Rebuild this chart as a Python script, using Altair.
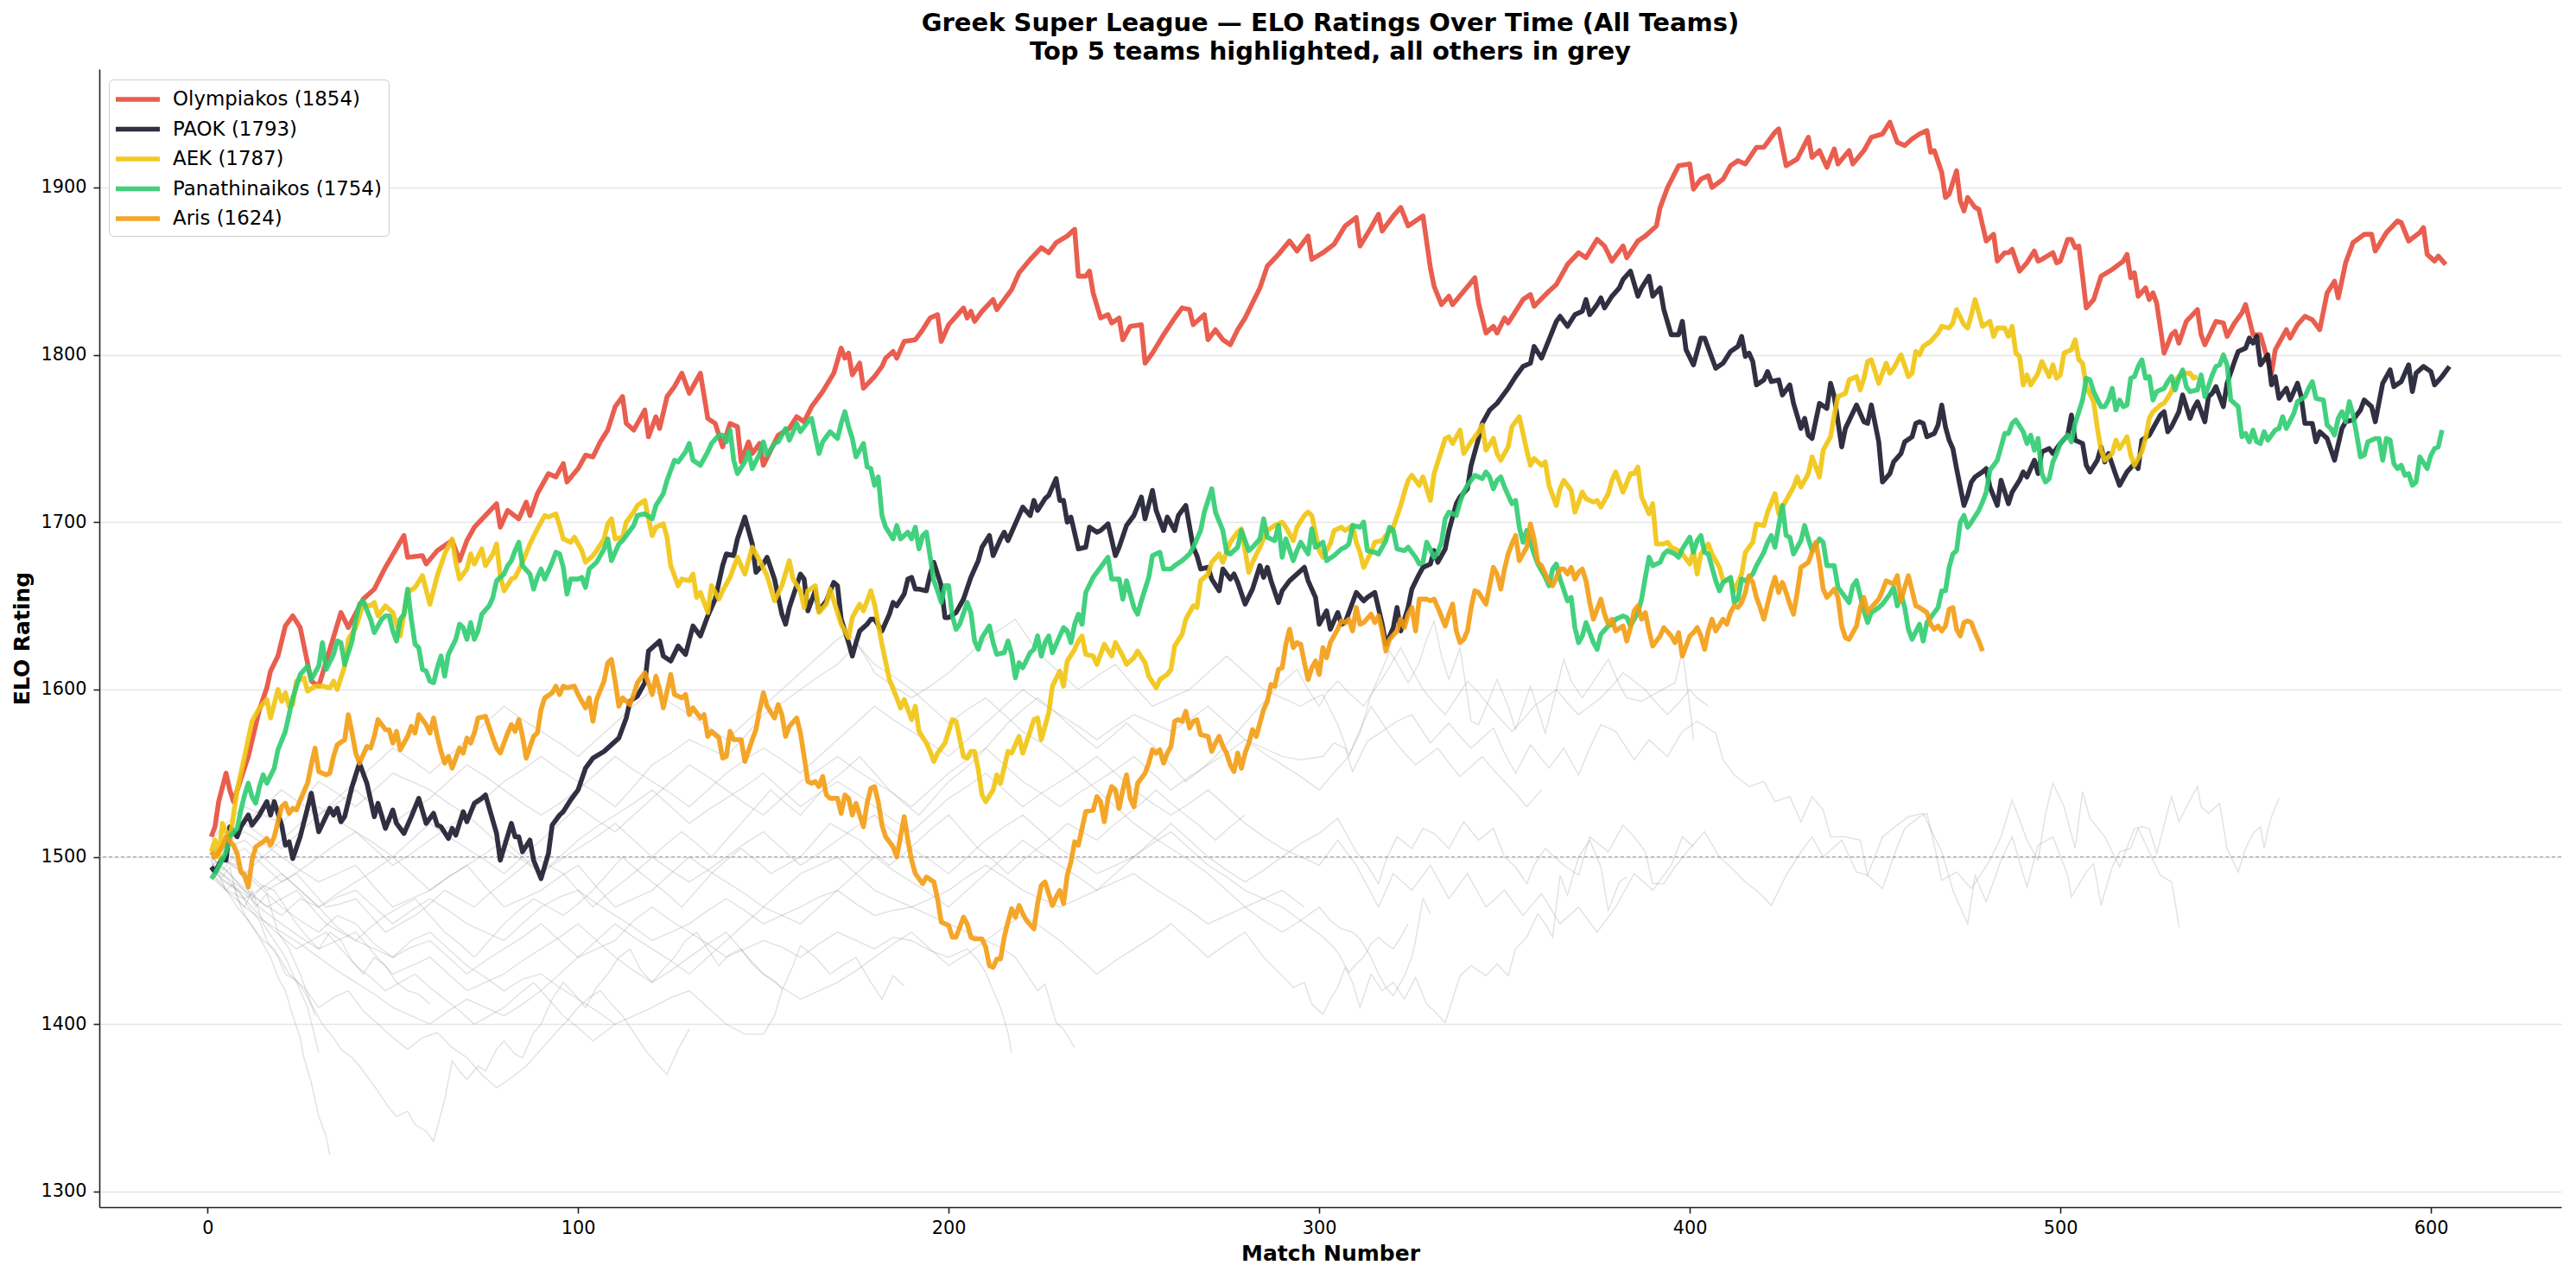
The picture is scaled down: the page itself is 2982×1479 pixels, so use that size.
import altair as alt
import pandas as pd

alt.data_transformers.disable_max_rows()

TITLE_1 = "Greek Super League \u2014 ELO Ratings Over Time (All Teams)"
TITLE_2 = "Top 5 teams highlighted, all others in grey"
TEAMS = ["Olympiakos (1854)", "PAOK (1793)", "AEK (1787)", "Panathinaikos (1754)", "Aris (1624)"]
COLORS = ["#e74c3c", "#1a1a2e", "#f1c40f", "#2ecc71", "#f39c12"]
X_TICKS = [0, 100, 200, 300, 400, 500, 600]
Y_TICKS = [1300, 1400, 1500, 1600, 1700, 1800, 1900]

OLY = [(1,1512),(2,1518),(3,1533),(5,1550),(6,1540),(7,1533),(11,1560),(14,1588),(16,1601),(17,1611),(19,1620),(21,1638),(23,1644),(25,1637),(28,1605),(30,1602),(36,1646),(38,1637),(42,1654),(45,1660),(48,1673),(53,1692),(54,1679),(58,1680),(59,1675),(62,1683),(66,1689),(68,1677),(70,1689),(72,1697),(75,1704),(78,1711),(79,1697),(81,1707),(84,1702),(86,1712),(87,1704),(89,1717),(92,1729),(94,1727),(96,1735),(97,1724),(100,1732),(102,1740),(104,1739),(106,1748),(108,1755),(110,1769),(112,1775),(113,1759),(115,1755),(118,1767),(119,1751),(121,1763),(122,1756),(124,1775),(126,1781),(128,1789),(130,1777),(133,1789),(135,1762),(137,1759),(139,1745),(141,1759),(143,1757),(144,1736),(146,1748),(147,1741),(149,1747),(150,1734),(154,1752),(157,1756),(159,1763),(161,1760),(163,1769),(166,1778),(169,1789),(171,1804),(172,1798),(173,1801),(174,1788),(176,1795),(177,1780),(180,1787),(182,1793),(183,1798),(185,1802),(186,1798),(188,1808),(191,1809),(193,1815),(195,1822),(197,1824),(198,1808),(200,1818),(202,1823),(204,1828),(205,1822),(206,1826),(207,1820),(209,1826),(212,1833),(213,1827),(215,1833),(217,1839),(219,1849),(222,1857),(225,1864),(227,1861),(229,1867),(232,1871),(234,1875),(235,1847),(237,1847),(238,1850),(239,1837),(241,1822),(243,1824),(244,1819),(246,1822),(247,1809),(249,1817),(252,1818),(253,1795),(255,1801),(258,1812),(261,1822),(263,1828),(265,1827),(266,1818),(269,1824),(270,1809),(272,1815),(274,1809),(276,1806),(278,1815),(280,1822),(282,1831),(284,1840),(286,1853),(289,1860),(292,1868),(294,1862),(297,1871),(298,1857),(301,1861),(304,1866),(307,1877),(310,1882),(311,1865),(314,1876),(316,1884),(317,1874),(320,1883),(322,1888),(324,1877),(328,1883),(330,1852),(331,1841),(333,1830),(335,1835),(336,1830),(339,1838),(342,1846),(343,1831),(345,1813),(347,1817),(348,1813),(350,1822),(351,1819),(355,1833),(357,1836),(358,1829),(362,1838),(364,1842),(367,1854),(370,1861),(372,1858),(375,1869),(377,1865),(379,1856),(382,1865),(383,1858),(386,1868),(388,1871),(391,1877),(392,1888),(394,1900),(397,1913),(400,1914),(401,1899),(403,1905),(405,1907),(406,1900),(409,1905),(411,1913),(413,1916),(415,1914),(418,1924),(420,1924),(423,1933),(424,1935),(426,1913),(429,1917),(432,1930),(433,1918),(435,1922),(437,1912),(439,1923),(440,1914),(443,1922),(444,1914),(447,1922),(449,1930),(452,1932),(454,1939),(456,1927),(458,1925),(460,1929),(462,1932),(464,1934),(465,1921),(466,1922),(468,1909),(469,1894),(470,1896),(472,1910),(473,1892),(474,1886),(475,1894),(477,1888),(478,1887),(480,1868),(482,1872),(483,1856),(485,1861),(486,1861),(487,1863),(489,1850),(491,1855),(493,1862),(494,1856),(495,1857),(498,1861),(499,1855),(500,1856),(502,1869),(503,1869),(504,1864),(505,1865),(506,1847),(507,1828),(509,1833),(511,1847),(514,1851),(517,1856),(518,1860),(519,1846),(520,1849),(521,1835),(523,1840),(524,1833),(525,1837),(526,1831),(528,1801),(530,1812),(531,1814),(532,1807),(534,1820),(537,1827),(538,1812),(539,1806),(542,1820),(544,1819),(545,1811),(547,1819),(549,1825),(550,1830),(552,1812),(554,1812),(557,1789),(558,1803),(561,1815),(562,1810),(564,1818),(566,1823),(568,1821),(570,1815),(572,1837),(574,1844),(575,1834),(577,1855),(579,1867),(582,1872),(584,1872),(585,1862),(588,1873),(591,1880),(592,1879),(594,1868),(597,1873),(598,1876),(599,1860),(601,1856),(602,1859),(604,1854)]

PAOK = [(1,1494),(2,1491),(4,1499),(5,1498),(6,1518),(8,1512),(9,1518),(11,1525),(12,1519),(14,1525),(16,1533),(17,1525),(18,1533),(20,1519),(21,1507),(22,1509),(23,1499),(25,1512),(28,1538),(30,1515),(33,1529),(34,1525),(35,1529),(36,1521),(37,1524),(39,1542),(41,1556),(43,1544),(45,1524),(46,1532),(48,1517),(50,1528),(51,1520),(53,1514),(55,1524),(57,1535),(59,1520),(61,1526),(62,1519),(63,1518),(65,1511),(66,1517),(67,1513),(69,1527),(70,1521),(72,1532),(74,1535),(75,1537),(78,1514),(79,1498),(82,1520),(83,1512),(84,1512),(85,1503),(87,1510),(88,1498),(90,1487),(92,1502),(93,1519),(95,1525),(96,1527),(98,1534),(100,1540),(102,1553),(104,1559),(107,1563),(109,1567),(111,1571),(113,1583),(114,1593),(116,1596),(118,1604),(119,1623),(122,1629),(123,1620),(125,1617),(127,1626),(129,1621),(131,1638),(133,1632),(135,1644),(137,1654),(139,1674),(140,1681),(142,1680),(143,1690),(145,1703),(147,1687),(148,1670),(150,1675),(151,1679),(153,1666),(155,1645),(156,1639),(157,1649),(160,1669),(161,1666),(162,1647),(164,1659),(165,1647),(167,1653),(169,1664),(170,1662),(171,1642),(173,1628),(174,1620),(175,1628),(176,1635),(178,1639),(179,1642),(180,1642),(182,1635),(184,1645),(185,1652),(186,1650),(188,1657),(189,1666),(190,1667),(191,1660),(192,1660),(194,1659),(195,1669),(196,1676),(198,1662),(199,1643),(200,1643),(202,1646),(204,1654),(206,1667),(208,1677),(209,1685),(211,1692),(212,1680),(214,1690),(215,1694),(216,1689),(218,1699),(220,1709),(222,1704),(223,1713),(224,1707),(226,1714),(227,1716),(229,1726),(230,1713),(231,1713),(232,1700),(233,1703),(235,1684),(237,1685),(238,1697),(240,1694),(241,1695),(243,1699),(245,1680),(246,1685),(248,1698),(250,1704),(252,1715),(253,1702),(255,1719),(256,1707),(258,1695),(259,1703),(261,1695),(262,1704),(264,1710),(266,1685),(267,1680),(268,1672),(270,1673),(271,1666),(273,1659),(274,1672),(276,1666),(277,1669),(278,1664),(280,1651),(282,1660),(284,1674),(285,1667),(286,1673),(287,1665),(289,1652),(290,1659),(292,1665),(294,1669),(296,1673),(297,1665),(299,1655),(300,1639),(302,1647),(303,1636),(305,1646),(306,1639),(307,1640),(310,1658),(312,1653),(313,1655),(315,1658),(317,1639),(318,1627),(320,1637),(321,1649),(322,1635),(324,1649),(325,1660),(327,1669),(328,1673),(330,1675),(331,1683),(332,1676),(334,1684),(335,1695),(337,1711),(338,1715),(340,1720),(341,1734),(343,1750),(344,1759),(346,1767),(348,1771),(350,1777),(351,1780),(353,1787),(355,1793),(357,1795),(358,1805),(360,1798),(362,1809),(364,1820),(365,1823),(367,1817),(369,1824),(371,1826),(372,1833),(373,1824),(375,1830),(376,1834),(377,1828),(379,1835),(381,1840),(382,1845),(384,1850),(386,1835),(387,1840),(389,1847),(390,1835),(392,1840),(393,1827),(395,1812),(397,1812),(398,1820),(399,1803),(401,1794),(403,1810),(404,1810),(405,1804),(407,1792),(409,1795),(411,1802),(413,1805),(414,1811),(415,1799),(416,1801),(417,1796),(418,1782),(420,1785),(421,1790),(422,1784),(424,1785),(425,1776),(427,1782),(428,1771),(430,1756),(431,1762),(432,1752),(433,1750),(435,1771),(437,1768),(438,1783),(439,1775),(441,1745),(442,1756),(445,1770),(447,1760),(448,1759),(449,1770),(451,1748),(452,1724),(454,1729),(455,1736),(457,1741),(458,1748),(460,1751),(461,1759),(462,1760),(463,1759),(464,1751),(466,1753),(467,1758),(468,1770),(469,1757),(470,1749),(471,1744),(472,1732),(474,1710),(475,1716),(476,1724),(477,1727),(479,1730),(480,1732),(481,1721),(483,1710),(484,1725),(486,1711),(487,1718),(489,1725),(490,1730),(491,1727),(493,1737),(494,1729),(495,1742),(497,1744),(498,1741),(500,1747),(502,1752),(503,1764),(504,1749),(506,1747),(507,1734),(508,1730),(510,1737),(511,1745),(512,1736),(513,1741),(515,1728),(516,1722),(518,1730),(520,1735),(521,1732),(522,1749),(524,1752),(525,1756),(527,1764),(528,1766),(529,1754),(530,1757),(532,1766),(533,1776),(535,1762),(536,1768),(537,1772),(539,1760),(540,1775),(541,1777),(542,1781),(544,1769),(545,1783),(547,1796),(548,1802),(550,1804),(551,1810),(552,1807),(553,1811),(554,1794),(556,1800),(557,1782),(558,1787),(559,1774),(561,1780),(562,1773),(564,1783),(565,1775),(566,1759),(568,1759),(569,1748),(570,1754),(572,1750),(574,1737),(576,1756),(577,1760),(579,1761),(581,1767),(582,1773),(584,1769),(585,1760),(587,1783),(588,1787),(589,1791),(590,1781),(592,1784),(594,1794),(595,1778),(596,1789),(598,1793),(600,1790),(601,1782),(603,1787),(605,1793)]

AEK = [(1,1503),(2,1510),(3,1500),(4,1520),(6,1510),(8,1540),(10,1560),(12,1581),(14,1589),(16,1594),(17,1583),(19,1600),(20,1593),(21,1598),(22,1590),(23,1591),(24,1605),(26,1607),(27,1599),(29,1602),(31,1602),(33,1601),(34,1605),(35,1600),(37,1614),(38,1630),(40,1637),(42,1651),(44,1650),(45,1652),(46,1644),(48,1650),(50,1646),(52,1632),(54,1658),(56,1661),(58,1668),(60,1651),(62,1668),(64,1681),(66,1690),(67,1676),(68,1666),(70,1672),(71,1681),(72,1675),(74,1684),(75,1674),(77,1681),(78,1687),(79,1668),(80,1659),(82,1666),(83,1667),(85,1676),(87,1687),(89,1696),(91,1704),(92,1703),(94,1705),(95,1698),(96,1690),(98,1688),(99,1691),(101,1683),(102,1676),(104,1680),(105,1683),(107,1690),(108,1699),(109,1702),(110,1690),(112,1691),(113,1700),(115,1706),(116,1710),(118,1713),(119,1702),(120,1692),(121,1697),(123,1699),(124,1691),(125,1674),(127,1662),(128,1666),(130,1665),(131,1669),(132,1655),(133,1658),(135,1646),(136,1662),(138,1654),(139,1659),(141,1667),(143,1679),(145,1669),(147,1685),(149,1677),(151,1668),(153,1653),(155,1662),(157,1677),(158,1666),(160,1659),(161,1649),(162,1659),(164,1662),(165,1646),(167,1651),(168,1660),(170,1646),(171,1639),(173,1631),(174,1643),(176,1651),(177,1647),(179,1659),(180,1651),(182,1627),(184,1606),(186,1595),(187,1589),(188,1594),(190,1582),(191,1590),(192,1575),(194,1568),(195,1563),(196,1557),(197,1562),(199,1568),(201,1582),(202,1581),(204,1560),(205,1559),(206,1563),(207,1563),(208,1552),(209,1537),(210,1533),(212,1540),(213,1549),(214,1544),(216,1563),(217,1562),(219,1572),(220,1562),(222,1575),(223,1582),(224,1583),(225,1570),(227,1586),(228,1602),(230,1611),(231,1602),(232,1617),(234,1624),(235,1629),(236,1632),(237,1621),(239,1620),(240,1615),(242,1627),(244,1620),(245,1628),(247,1620),(248,1615),(250,1619),(251,1623),(253,1616),(254,1608),(256,1601),(257,1606),(259,1609),(260,1612),(261,1626),(263,1633),(264,1642),(266,1650),(267,1649),(268,1665),(270,1669),(271,1676),(273,1681),(274,1676),(276,1688),(278,1694),(279,1696),(281,1670),(282,1676),(284,1685),(286,1695),(288,1698),(290,1700),(291,1697),(293,1689),(294,1697),(296,1704),(297,1706),(298,1704),(300,1683),(301,1679),(303,1687),(304,1695),(306,1697),(307,1695),(309,1698),(310,1688),(311,1682),(312,1673),(314,1682),(315,1688),(317,1689),(318,1692),(320,1697),(322,1710),(323,1718),(324,1725),(325,1728),(327,1722),(328,1727),(330,1713),(331,1729),(332,1736),(334,1750),(335,1751),(336,1747),(338,1755),(339,1741),(341,1748),(343,1754),(344,1758),(345,1743),(347,1750),(348,1741),(349,1737),(351,1745),(352,1757),(354,1763),(356,1743),(357,1734),(358,1738),(360,1734),(361,1736),(362,1722),(364,1710),(365,1720),(366,1725),(368,1719),(369,1706),(371,1718),(372,1714),(374,1712),(375,1713),(376,1709),(378,1717),(379,1725),(380,1730),(382,1718),(384,1729),(385,1729),(386,1733),(387,1715),(389,1705),(390,1711),(391,1687),(393,1687),(394,1688),(395,1685),(397,1683),(398,1681),(400,1675),(401,1683),(402,1669),(403,1681),(405,1687),(406,1681),(408,1673),(409,1665),(411,1666),(412,1659),(414,1669),(415,1682),(417,1688),(418,1699),(420,1698),(421,1706),(423,1717),(424,1705),(426,1713),(428,1721),(429,1727),(430,1721),(432,1729),(433,1739),(435,1727),(436,1743),(438,1751),(439,1764),(440,1775),(442,1777),(443,1785),(445,1787),(446,1779),(447,1786),(448,1796),(449,1797),(451,1783),(453,1795),(454,1789),(455,1792),(457,1800),(459,1787),(460,1789),(461,1802),(462,1800),(463,1805),(465,1808),(467,1813),(468,1817),(470,1816),(471,1819),(472,1827),(474,1818),(475,1816),(476,1824),(477,1833),(479,1817),(481,1820),(482,1811),(483,1816),(485,1816),(486,1811),(487,1817),(488,1801),(489,1799),(490,1782),(491,1788),(492,1782),(494,1789),(495,1796),(497,1787),(498,1794),(499,1786),(500,1788),(501,1801),(503,1803),(504,1809),(505,1797),(506,1795),(507,1781),(509,1772),(510,1756),(511,1743),(512,1737),(514,1741),(515,1749),(516,1744),(518,1751),(519,1740),(520,1734),(522,1742),(523,1750),(524,1762),(525,1766),(527,1770),(528,1771),(530,1778),(531,1785),(533,1789),(535,1789),(536,1786),(537,1787)]

PAO = [(1,1487),(2,1490),(3,1494),(5,1503),(6,1512),(8,1517),(9,1528),(10,1537),(11,1544),(12,1536),(13,1532),(14,1542),(15,1549),(16,1544),(18,1553),(19,1564),(21,1575),(23,1595),(25,1609),(27,1614),(28,1606),(30,1614),(31,1628),(32,1612),(34,1621),(35,1629),(36,1628),(37,1615),(39,1629),(40,1642),(41,1651),(42,1653),(44,1642),(45,1634),(47,1642),(48,1644),(49,1644),(50,1635),(51,1629),(52,1642),(53,1645),(54,1660),(55,1642),(56,1627),(57,1625),(58,1612),(59,1611),(60,1605),(61,1604),(62,1613),(63,1620),(64,1608),(65,1621),(67,1630),(68,1639),(69,1637),(70,1630),(71,1640),(72,1630),(73,1635),(74,1645),(76,1650),(77,1655),(78,1665),(80,1669),(81,1674),(82,1677),(83,1683),(84,1688),(85,1674),(87,1669),(88,1660),(89,1667),(90,1672),(91,1666),(93,1676),(94,1682),(95,1681),(96,1673),(97,1657),(98,1666),(100,1666),(101,1667),(102,1661),(103,1672),(105,1676),(106,1680),(107,1684),(108,1690),(109,1677),(111,1687),(112,1689),(113,1692),(115,1698),(116,1704),(118,1705),(120,1702),(121,1710),(123,1717),(124,1725),(126,1737),(127,1736),(129,1742),(130,1747),(131,1737),(133,1734),(135,1742),(136,1747),(138,1752),(139,1752),(140,1748),(141,1755),(142,1737),(143,1729),(145,1736),(146,1742),(147,1732),(149,1741),(150,1748),(151,1740),(153,1747),(154,1748),(156,1756),(157,1749),(159,1759),(160,1754),(162,1760),(163,1762),(165,1741),(166,1748),(167,1751),(168,1754),(170,1750),(171,1759),(172,1766),(173,1757),(174,1750),(175,1739),(177,1747),(178,1733),(179,1732),(180,1722),(181,1727),(182,1704),(183,1697),(185,1690),(186,1698),(187,1690),(189,1694),(190,1690),(191,1697),(192,1684),(193,1692),(194,1694),(196,1665),(197,1659),(198,1652),(199,1662),(200,1662),(201,1644),(202,1636),(203,1639),(205,1652),(206,1646),(207,1629),(208,1624),(209,1631),(211,1638),(212,1628),(213,1621),(215,1622),(216,1629),(217,1621),(218,1607),(219,1616),(220,1613),(222,1622),(223,1624),(224,1632),(225,1620),(226,1628),(227,1632),(228,1622),(230,1632),(231,1637),(232,1635),(233,1628),(234,1639),(235,1645),(236,1639),(237,1658),(239,1667),(241,1673),(242,1676),(243,1679),(244,1666),(246,1666),(247,1654),(248,1665),(250,1649),(251,1645),(252,1653),(254,1667),(255,1680),(257,1682),(258,1672),(260,1672),(261,1674),(263,1677),(265,1681),(266,1685),(268,1695),(269,1706),(271,1720),(272,1706),(274,1695),(275,1682),(276,1681),(278,1685),(279,1695),(281,1683),(282,1685),(284,1690),(285,1702),(286,1691),(288,1689),(289,1698),(290,1679),(291,1690),(293,1677),(294,1683),(295,1688),(297,1681),(298,1696),(299,1685),(301,1688),(302,1677),(304,1680),(306,1684),(307,1685),(308,1687),(309,1698),(311,1697),(312,1700),(313,1683),(315,1682),(316,1681),(318,1689),(319,1697),(320,1695),(321,1684),(323,1683),(324,1685),(326,1679),(327,1675),(328,1676),(329,1688),(331,1679),(332,1682),(333,1688),(334,1702),(335,1706),(337,1704),(338,1712),(339,1718),(340,1722),(342,1728),(344,1726),(345,1730),(346,1727),(347,1720),(348,1725),(349,1727),(350,1721),(352,1711),(353,1713),(354,1697),(355,1688),(356,1695),(358,1681),(359,1675),(361,1667),(362,1662),(363,1672),(364,1675),(365,1666),(367,1653),(368,1655),(369,1637),(370,1628),(371,1632),(372,1640),(374,1628),(375,1624),(376,1633),(378,1638),(379,1639),(380,1642),(382,1644),(383,1643),(384,1638),(386,1646),(387,1654),(388,1667),(389,1679),(390,1674),(392,1676),(393,1681),(394,1683),(396,1681),(397,1679),(398,1684),(400,1691),(401,1682),(402,1689),(403,1692),(404,1682),(405,1681),(407,1665),(408,1659),(409,1664),(411,1667),(412,1652),(413,1654),(414,1666),(415,1665),(417,1669),(418,1674),(420,1682),(421,1688),(422,1692),(423,1685),(424,1698),(425,1710),(426,1692),(427,1691),(428,1681),(430,1689),(431,1698),(432,1690),(433,1683),(435,1690),(436,1688),(437,1674),(439,1674),(440,1661),(441,1658),(443,1652),(444,1662),(445,1665),(447,1647),(448,1640),(449,1646),(451,1649),(452,1651),(454,1657),(455,1661),(456,1650),(457,1657),(458,1649),(459,1636),(460,1630),(462,1639),(463,1629),(464,1640),(466,1646),(467,1649),(468,1659),(469,1659),(470,1673),(471,1681),(472,1683),(473,1700),(474,1704),(475,1697),(476,1700),(478,1707),(479,1712),(480,1718),(481,1731),(483,1737),(484,1745),(485,1753),(486,1753),(487,1759),(488,1761),(490,1754),(491,1747),(492,1752),(493,1743),(494,1750),(495,1729),(496,1724),(497,1726),(498,1736),(499,1741),(500,1747),(502,1752),(503,1748),(504,1759),(506,1773),(507,1786),(508,1785),(509,1778),(511,1769),(512,1769),(513,1773),(514,1780),(515,1767),(516,1773),(517,1769),(518,1770),(519,1786),(520,1787),(521,1793),(522,1797),(523,1786),(524,1787),(525,1773),(526,1778),(528,1780),(529,1784),(530,1787),(531,1779),(532,1786),(533,1791),(534,1781),(535,1778),(537,1779),(538,1788),(539,1775),(541,1788),(542,1793),(543,1794),(544,1800),(545,1794),(546,1773),(547,1771),(548,1769),(549,1751),(550,1753),(551,1748),(552,1755),(553,1748),(554,1747),(555,1754),(556,1749),(558,1755),(559,1756),(560,1763),(561,1756),(563,1765),(564,1772),(566,1775),(567,1780),(568,1784),(569,1774),(571,1773),(572,1758),(573,1756),(574,1752),(575,1762),(576,1766),(577,1760),(578,1772),(579,1764),(580,1752),(581,1739),(582,1740),(583,1748),(585,1750),(586,1750),(587,1737),(588,1750),(589,1749),(590,1735),(591,1732),(592,1734),(593,1728),(594,1729),(595,1722),(596,1724),(597,1739),(599,1732),(600,1740),(601,1744),(602,1745),(603,1755)]

ARIS = [(1,1503),(2,1500),(4,1506),(5,1512),(7,1507),(8,1502),(9,1491),(10,1489),(11,1482),(12,1498),(13,1506),(15,1509),(16,1511),(17,1507),(18,1512),(19,1521),(20,1530),(21,1532),(22,1526),(23,1529),(24,1528),(25,1534),(27,1544),(28,1555),(29,1565),(30,1551),(32,1549),(33,1550),(34,1560),(35,1567),(37,1570),(38,1585),(39,1574),(40,1562),(41,1556),(43,1566),(44,1565),(45,1572),(46,1582),(48,1576),(49,1576),(50,1568),(51,1575),(52,1564),(54,1572),(55,1578),(56,1574),(57,1585),(59,1579),(60,1574),(61,1583),(62,1572),(63,1563),(64,1556),(65,1560),(66,1553),(68,1565),(69,1562),(70,1571),(71,1568),(72,1574),(73,1583),(75,1584),(77,1571),(78,1565),(79,1562),(81,1574),(82,1579),(83,1575),(84,1582),(85,1572),(86,1559),(88,1572),(89,1574),(90,1588),(91,1595),(93,1598),(94,1602),(95,1597),(96,1602),(97,1601),(99,1602),(100,1597),(102,1589),(103,1595),(104,1581),(105,1594),(107,1605),(108,1616),(109,1618),(110,1605),(111,1590),(112,1595),(114,1591),(115,1597),(116,1604),(118,1610),(119,1604),(120,1597),(121,1608),(122,1600),(123,1589),(125,1609),(126,1597),(128,1595),(129,1597),(130,1585),(131,1589),(133,1583),(134,1585),(135,1572),(136,1575),(138,1571),(139,1559),(140,1560),(141,1575),(142,1570),(144,1570),(145,1557),(147,1570),(148,1576),(149,1588),(150,1598),(151,1590),(153,1583),(154,1591),(155,1585),(156,1572),(157,1578),(159,1583),(160,1574),(161,1560),(162,1545),(163,1544),(164,1545),(165,1542),(166,1548),(167,1537),(168,1535),(170,1535),(171,1526),(172,1537),(173,1535),(174,1525),(175,1532),(177,1518),(178,1532),(179,1541),(180,1542),(181,1533),(182,1519),(183,1512),(185,1506),(186,1500),(187,1512),(188,1524),(189,1510),(190,1498),(191,1490),(192,1487),(193,1484),(194,1488),(196,1485),(197,1475),(198,1461),(200,1459),(201,1452),(202,1452),(204,1464),(205,1460),(206,1452),(207,1451),(209,1451),(210,1446),(211,1435),(212,1434),(213,1439),(214,1439),(215,1452),(216,1461),(217,1469),(218,1464),(219,1471),(220,1466),(221,1462),(223,1457),(224,1472),(225,1483),(226,1485),(228,1471),(229,1476),(230,1480),(231,1472),(232,1489),(233,1497),(234,1509),(235,1507),(236,1517),(237,1527),(239,1528),(240,1536),(241,1533),(242,1521),(243,1535),(244,1542),(245,1540),(246,1529),(247,1540),(248,1549),(249,1535),(250,1530),(251,1544),(253,1550),(254,1556),(255,1564),(256,1562),(257,1564),(258,1556),(259,1562),(260,1566),(261,1581),(262,1582),(263,1581),(264,1587),(265,1577),(266,1581),(267,1582),(268,1573),(270,1572),(271,1563),(272,1568),(273,1572),(274,1566),(275,1562),(276,1555),(277,1551),(278,1562),(279,1553),(280,1562),(281,1568),(282,1576),(283,1572),(285,1588),(286,1593),(287,1603),(288,1602),(289,1612),(290,1613),(291,1627),(292,1636),(293,1625),(294,1628),(295,1627),(296,1616),(297,1606),(298,1613),(299,1617),(300,1609),(301,1625),(302,1619),(303,1628),(305,1636),(306,1641),(307,1640),(308,1642),(309,1635),(310,1649),(311,1639),(312,1640),(314,1645),(315,1640),(316,1644),(317,1635),(318,1623),(319,1630),(321,1635),(322,1642),(323,1637),(324,1645),(325,1649),(326,1635),(327,1654),(329,1654),(330,1653),(331,1654),(332,1649),(334,1638),(335,1645),(336,1651),(337,1635),(338,1628),(339,1630),(340,1635),(341,1649),(342,1659),(343,1658),(345,1651),(346,1662),(347,1673),(348,1669),(349,1660),(350,1672),(351,1681),(352,1687),(353,1692),(354,1677),(356,1685),(357,1699),(358,1690),(359,1676),(360,1674),(361,1669),(362,1665),(363,1662),(365,1672),(366,1672),(367,1669),(368,1673),(369,1666),(370,1670),(371,1672),(372,1665),(373,1652),(374,1642),(376,1654),(377,1645),(378,1639),(379,1642),(380,1635),(382,1638),(383,1629),(384,1637),(385,1647),(386,1650),(387,1642),(388,1646),(389,1635),(390,1626),(392,1632),(393,1637),(395,1632),(396,1628),(397,1634),(398,1620),(400,1632),(401,1634),(402,1637),(403,1632),(404,1624),(405,1635),(406,1642),(407,1635),(409,1642),(410,1639),(411,1646),(412,1650),(413,1649),(414,1652),(415,1658),(416,1668),(417,1664),(418,1655),(419,1649),(420,1642),(421,1651),(422,1660),(423,1667),(424,1658),(425,1664),(426,1658),(427,1651),(428,1645),(429,1658),(430,1673),(432,1676),(433,1682),(434,1688),(435,1676),(436,1660),(437,1655),(439,1660),(440,1655),(441,1638),(442,1631),(443,1630),(445,1638),(446,1649),(447,1655),(448,1646),(449,1649),(451,1654),(452,1659),(453,1665),(455,1663),(456,1668),(457,1653),(458,1661),(459,1668),(460,1659),(461,1650),(462,1649),(464,1646),(465,1639),(466,1636),(467,1638),(468,1635),(469,1638),(470,1648),(471,1649),(472,1636),(473,1632),(474,1640),(475,1641),(476,1640),(477,1634),(478,1629),(479,1623)]

# other clubs (grey)
G01 = [(1,1498),(3,1490),(5,1480),(7,1484),(9,1470),(11,1462),(13,1455),(15,1448),(17,1440),(19,1428),(21,1420),(23,1405),(25,1392),(26,1380),(28,1365),(30,1345),(32,1333),(33,1322)]
G02 = [(1,1495),(4,1488),(6,1494),(8,1475),(10,1470),(12,1480),(15,1460),(18,1450),(21,1440),(24,1425),(27,1410),(30,1383)]
G03 = [(1,1500),(4,1492),(7,1500),(10,1485),(13,1470),(16,1478),(19,1455),(22,1445),(25,1430),(27,1418),(29,1405)]
G04 = [(1,1497),(4,1490),(6,1485),(9,1478),(11,1470),(14,1462),(16,1450),(19,1440),(21,1430),(24,1426),(26,1420),(29,1408),(31,1400),(34,1392),(36,1385),(39,1380),(41,1375),(44,1366),(46,1360),(49,1350),(51,1345),(54,1348),(56,1340),(59,1336),(61,1330),(64,1355),(66,1378),(68,1372),(70,1367),(73,1375),(75,1372),(78,1385),(80,1390),(83,1382),(85,1380),(88,1395),(90,1400),(93,1415),(96,1425),(99,1418),(102,1410),(105,1422),(108,1430),(111,1440),(114,1445),(117,1432),(120,1425),(123,1433),(126,1440),(129,1450),(132,1455),(135,1445),(138,1435),(141,1442),(144,1445),(147,1436),(150,1430),(153,1426),(155,1421)]
G05 = [(1,1490),(4,1484),(8,1470),(11,1462),(15,1450),(18,1445),(22,1430),(26,1422),(30,1410),(34,1416),(38,1420),(42,1408),(46,1400),(50,1392),(54,1385),(58,1392),(62,1395),(66,1386),(70,1380),(74,1370),(78,1362),(82,1368),(86,1375),(90,1385),(94,1395),(97,1402),(100,1410),(103,1416),(106,1420),(109,1412),(112,1405),(115,1395),(118,1385),(121,1377),(124,1370),(127,1385),(130,1397)]
G06 = [(1,1500),(4,1494),(6,1490),(9,1482),(12,1475),(15,1483),(18,1480),(21,1470),(24,1460),(27,1452),(30,1445),(33,1455),(36,1450),(39,1438),(42,1430),(45,1440),(48,1435),(51,1425),(54,1420),(57,1418),(60,1412)]
G07 = [(1,1495),(5,1488),(10,1480),(15,1472),(20,1465),(25,1475),(30,1470),(35,1458),(40,1450),(45,1445),(50,1440),(55,1450),(60,1455),(65,1445),(70,1435),(75,1428),(80,1420),(85,1427),(90,1430),(95,1422),(100,1415),(105,1408),(110,1400),(115,1405),(120,1410),(125,1416),(130,1420),(135,1410),(140,1400),(145,1394),(150,1394),(153,1405),(155,1420),(158,1435),(160,1447),(164,1440),(168,1430),(172,1436),(175,1440),(179,1425),(182,1415),(185,1429),(188,1423)]
G08 = [(1,1505),(5,1497),(10,1490),(15,1480),(20,1470),(25,1462),(30,1455),(35,1465),(40,1460),(45,1448),(50,1440),(55,1446),(60,1450),(65,1440),(70,1430),(75,1438),(80,1445),(85,1452),(90,1460),(95,1450),(100,1440),(105,1445),(110,1450),(115,1462),(120,1470),(125,1462),(130,1455),(135,1448),(140,1440),(145,1445),(150,1450),(155,1446),(160,1440),(165,1448),(170,1455),(175,1450),(180,1445),(185,1452),(190,1450),(195,1444),(200,1440),(205,1445),(208,1438),(210,1431),(212,1420),(214,1410),(216,1395),(217,1383)]
G09 = [(1,1498),(5,1505),(10,1510),(15,1500),(20,1490),(25,1480),(30,1470),(35,1476),(40,1480),(45,1470),(50,1460),(55,1468),(60,1475),(65,1468),(70,1460),(75,1455),(80,1450),(85,1460),(90,1470),(95,1476),(100,1480),(105,1472),(110,1465),(115,1458),(120,1450),(125,1455),(130,1460),(135,1468),(140,1475),(145,1468),(150,1460),(155,1465),(160,1470),(165,1476),(170,1480),(175,1472),(180,1465),(185,1468),(190,1470),(195,1465),(200,1460),(205,1455),(210,1450),(214,1446),(218,1440),(221,1430),(224,1420),(226,1424),(229,1401),(231,1397),(234,1386)]
G10 = [(1,1502),(5,1508),(10,1515),(15,1508),(20,1500),(25,1492),(30,1485),(35,1490),(40,1495),(45,1482),(50,1470),(55,1475),(60,1480),(65,1488),(70,1495),(75,1482),(80,1470),(85,1475),(90,1480),(95,1488),(100,1495),(105,1482),(110,1470),(115,1475),(120,1480),(125,1490),(130,1500),(135,1492),(140,1485),(145,1478),(150,1470),(155,1480),(160,1490),(165,1495),(170,1500),(175,1490),(180,1480),(185,1475),(190,1470),(195,1475),(200,1480),(205,1488),(210,1495),(215,1488),(220,1480),(225,1475),(230,1470),(235,1475),(240,1480),(245,1485),(250,1490),(255,1482),(260,1475),(265,1468),(270,1460),(275,1465),(280,1470),(285,1462),(290,1455),(295,1462),(300,1470),(303,1462),(306,1457),(309,1455),(311,1451),(314,1440),(316,1430),(318,1422),(320,1417),(323,1429),(325,1440),(326,1450),(328,1475),(330,1466)]
G11 = [(1,1492),(5,1485),(10,1478),(15,1468),(20,1460),(25,1452),(30,1445),(35,1450),(40,1455),(45,1442),(50,1430),(55,1435),(60,1440),(65,1430),(70,1420),(75,1425),(80,1430),(85,1438),(90,1445),(95,1452),(100,1460),(105,1450),(110,1440),(115,1432),(120,1425),(125,1432),(130,1440),(135,1448),(140,1455),(145,1442),(150,1430),(155,1422),(160,1415),(165,1420),(170,1425),(175,1432),(180,1440),(185,1448),(190,1455),(195,1445),(200,1435),(205,1442),(210,1450),(215,1458),(220,1465),(225,1458),(230,1450),(235,1440),(240,1430),(245,1438),(250,1445),(255,1452),(260,1460),(265,1450),(270,1440),(275,1448),(280,1455),(285,1440),(290,1429),(293,1422),(296,1425),(298,1412),(301,1406),(303,1415),(305,1422),(307,1434),(309,1425),(311,1410),(314,1430),(317,1420),(320,1425),(323,1415),(326,1428),(329,1412),(331,1408),(334,1401),(336,1415),(338,1429),(341,1435),(343,1432),(345,1429),(348,1436),(351,1429),(353,1445),(356,1452),(359,1466),(361,1460),(363,1452),(365,1489),(367,1477),(370,1500),(373,1510),(376,1494),(378,1468),(381,1485),(383,1488)]
G12 = [(1,1510),(5,1520),(10,1530),(15,1525),(20,1520),(25,1532),(30,1545),(35,1538),(40,1530),(45,1540),(50,1550),(55,1545),(60,1540),(65,1532),(70,1525),(75,1535),(80,1545),(85,1552),(90,1560),(95,1552),(100,1545),(105,1538),(110,1530),(115,1542),(120,1555),(125,1562),(130,1570),(135,1565),(140,1560),(145,1572),(150,1585),(155,1592),(160,1600),(165,1608),(170,1615),(173,1622),(175,1628),(178,1618),(180,1610),(185,1602),(190,1595),(195,1602),(200,1610),(205,1620),(210,1630),(214,1636),(218,1642),(221,1632),(225,1620),(230,1610),(235,1600),(240,1608),(245,1615),(250,1602),(255,1590),(260,1595),(265,1600),(270,1610),(275,1620),(280,1610),(285,1600),(290,1595),(295,1590),(298,1594),(301,1597),(303,1588),(305,1579),(308,1561),(311,1574),(314,1597),(317,1612),(319,1623),(322,1612),(324,1604),(327,1616),(329,1630),(331,1641),(333,1620),(335,1606),(338,1625),(341,1581),(343,1579),(346,1595),(348,1606),(351,1590),(353,1576),(357,1602),(361,1574),(364,1600),(366,1618),(368,1605),(371,1595),(375,1608),(378,1618),(381,1603),(383,1595),(387,1593),(391,1598),(396,1604),(398,1623),(400,1590),(401,1570)]
G13 = [(1,1500),(5,1512),(10,1520),(15,1512),(20,1505),(25,1515),(30,1525),(35,1532),(40,1540),(45,1530),(50,1520),(55,1528),(60,1535),(65,1545),(70,1555),(75,1548),(80,1540),(85,1532),(90,1525),(95,1532),(100,1540),(105,1550),(110,1560),(115,1552),(120,1545),(125,1538),(130,1530),(135,1540),(140,1550),(145,1558),(150,1565),(155,1558),(160,1550),(165,1560),(170,1570),(175,1580),(180,1590),(185,1582),(190,1575),(195,1568),(200,1560),(205,1570),(210,1580),(215,1590),(220,1600),(225,1592),(230,1585),(235,1578),(240,1570),(245,1578),(250,1585),(255,1580),(260,1575),(265,1582),(270,1590),(275,1580),(280,1570),(285,1565),(290,1560),(295,1558),(301,1560),(304,1568),(307,1565),(309,1551),(313,1569),(317,1575),(321,1581),(325,1585),(330,1568),(335,1580),(338,1572),(341,1565),(347,1577),(350,1562),(353,1550),(357,1567),(362,1553),(366,1565),(370,1549),(373,1565),(376,1579),(380,1575),(385,1558),(389,1570),(394,1560),(398,1575),(402,1581),(407,1574),(409,1558),(412,1549),(416,1542),(420,1545),(423,1533),(427,1536),(430,1521),(433,1536),(436,1528),(438,1512),(442,1512),(446,1510),(448,1489),(452,1512),(456,1519),(459,1524),(463,1526),(466,1512),(468,1503),(471,1480),(475,1460),(477,1489),(480,1473),(484,1498),(487,1512),(491,1482),(494,1507),(498,1512),(502,1489),(503,1476),(507,1491),(509,1496),(511,1471),(514,1494),(516,1503),(519,1505),(521,1517),(524,1503),(527,1489),(530,1485),(531,1473),(532,1458)]
G14 = [(1,1488),(5,1480),(10,1475),(15,1482),(20,1490),(25,1480),(30,1470),(35,1478),(40,1485),(45,1492),(50,1500),(55,1490),(60,1480),(65,1488),(70,1495),(75,1502),(80,1510),(85,1500),(90,1490),(95,1498),(100,1505),(105,1512),(110,1520),(115,1510),(120,1500),(125,1492),(130,1485),(135,1492),(140,1500),(145,1508),(150,1515),(155,1505),(160,1495),(165,1502),(170,1510),(175,1518),(180,1525),(185,1515),(190,1505),(195,1498),(200,1490),(205,1500),(210,1510),(215,1518),(220,1525),(225,1515),(230,1505),(235,1498),(240,1490),(245,1495),(250,1500),(255,1510),(260,1520),(265,1510),(270,1500),(275,1492),(280,1485),(285,1492),(290,1500),(295,1508),(300,1514),(305,1523),(310,1503),(313,1495),(316,1484),(318,1498),(321,1512),(325,1505),(328,1517),(331,1514),(335,1505),(339,1521),(343,1510),(347,1517),(350,1500),(353,1494),(356,1484),(358,1495),(361,1505),(366,1495),(370,1489),(373,1512),(378,1503),(382,1519),(385,1512),(388,1503),(390,1484),(393,1484),(396,1494),(400,1505),(404,1515),(408,1500),(411,1494),(415,1485),(419,1478),(422,1471),(426,1489),(430,1503),(433,1512),(436,1500),(441,1510),(445,1491),(448,1489),(452,1481),(456,1506),(458,1517),(462,1524),(464,1526),(466,1507),(468,1486),(472,1491),(476,1481),(481,1498),(484,1512),(487,1534),(489,1522),(491,1510),(494,1498),(496,1526),(498,1544),(501,1530),(504,1505),(506,1539),(508,1523),(512,1512),(516,1494),(520,1517),(522,1518),(524,1517),(526,1502),(528,1519),(530,1536),(532,1521),(535,1534),(537,1542),(538,1530),(540,1526),(543,1532),(545,1505),(548,1491),(550,1505),(552,1514),(554,1518),(555,1505),(556,1516),(557,1524),(559,1535)]
G15 = [(1,1495),(5,1500),(10,1505),(15,1495),(20,1485),(25,1492),(30,1500),(35,1508),(40,1515),(45,1505),(50,1495),(55,1502),(60,1510),(65,1518),(70,1525),(75,1515),(80,1505),(85,1498),(90,1490),(95,1500),(100,1510),(105,1518),(110,1525),(115,1532),(120,1540),(125,1530),(130,1520),(135,1528),(140,1535),(145,1542),(150,1550),(155,1540),(160,1530),(165,1538),(170,1545),(175,1538),(180,1530),(185,1522),(190,1515),(195,1525),(200,1535),(205,1542),(210,1550),(215,1540),(220,1530),(225,1538),(230,1545),(235,1552),(240,1560),(245,1550),(250,1540),(255,1532),(260,1525),(265,1532),(270,1540),(275,1530),(280,1520),(285,1512),(290,1505),(295,1500),(300,1495),(305,1510),(310,1495),(316,1470),(320,1490),(325,1480),(330,1495),(335,1475),(340,1490),(345,1470),(350,1480),(355,1465),(360,1478),(365,1460),(370,1470),(375,1455),(380,1470),(385,1490),(390,1480),(395,1495),(398,1512),(401,1506)]
G16 = [(1,1505),(5,1498),(10,1490),(15,1500),(20,1510),(25,1520),(30,1530),(35,1522),(40,1515),(45,1508),(50,1500),(55,1510),(60,1520),(65,1512),(70,1505),(75,1498),(80,1490),(85,1500),(90,1510),(95,1520),(100,1530),(105,1522),(110,1515),(115,1525),(120,1535),(125,1545),(130,1555),(135,1548),(140,1540),(145,1532),(150,1525),(155,1535),(160,1545),(165,1552),(170,1560),(175,1552),(180,1545),(185,1538),(190,1530),(195,1540),(200,1550),(205,1558),(210,1565),(215,1555),(220,1545),(225,1538),(230,1530),(235,1538),(240,1545),(245,1552),(250,1560),(255,1550),(260,1540),(265,1548),(270,1555),(275,1562),(280,1570),(285,1562),(290,1555),(295,1548),(300,1540),(305,1553),(308,1560),(311,1576),(314,1590),(317,1580),(320,1570),(323,1562),(326,1555),(329,1560),(332,1565),(335,1556),(338,1548),(341,1554),(344,1560),(347,1552),(350,1545),(353,1538),(356,1530),(358,1535),(360,1540)]
G17 = [(1,1490),(5,1480),(10,1470),(15,1462),(20,1455),(25,1448),(30,1440),(35,1432),(40,1425),(45,1418),(50,1410),(55,1405),(60,1400),(65,1408),(70,1415),(75,1410),(80,1405),(85,1412),(90,1420),(95,1430),(100,1440),(105,1450),(110,1460),(115,1452),(120,1445),(125,1438),(130,1430),(135,1440),(140,1450),(145,1460),(150,1470),(155,1465),(160,1460),(165,1470),(170,1480),(175,1490),(180,1500),(185,1492),(190,1485),(195,1478),(200,1470),(205,1480),(210,1490),(215,1500),(220,1510),(225,1502),(230,1495),(235,1488),(240,1480),(245,1490),(250,1500),(255,1508),(260,1515),(265,1505),(270,1495),(275,1488),(280,1480),(285,1475),(290,1470),(295,1462),(300,1454),(303,1448),(305,1443),(308,1431),(310,1436),(312,1440),(314,1448),(316,1452),(318,1448),(320,1445),(322,1452),(324,1460)]
G18 = [(1,1498),(5,1510),(10,1520),(15,1530),(20,1540),(25,1532),(30,1525),(35,1535),(40,1545),(45,1555),(50,1565),(55,1558),(60,1550),(65,1560),(70,1570),(75,1580),(80,1590),(85,1582),(90,1575),(95,1568),(100,1560),(105,1570),(110,1580),(115,1590),(120,1600),(125,1592),(130,1585),(135,1578),(140,1570),(145,1580),(150,1590),(155,1600),(160,1610),(165,1620),(170,1630),(173,1634),(175,1628),(178,1620),(180,1615),(185,1608),(190,1600),(195,1590),(200,1580),(205,1588),(210,1595),(215,1585),(220,1575),(225,1568),(230,1560),(235,1550),(240,1540),(245,1530),(250,1520),(255,1512),(260,1505),(265,1498),(270,1490),(275,1480),(280,1470),(285,1475),(290,1480),(293,1475),(296,1470)]
G19 = [(1,1500),(4,1494),(8,1485),(12,1478),(16,1470),(20,1475),(24,1480),(28,1470),(32,1460),(36,1455),(40,1450),(44,1458),(48,1465),(52,1470),(56,1475),(60,1465),(64,1455),(68,1448),(72,1440),(76,1450),(80,1460),(84,1468),(88,1475),(92,1470),(96,1465),(100,1472),(104,1480),(108,1490),(112,1500),(116,1492),(120,1485),(124,1478),(128,1470),(132,1480),(136,1490),(140,1498),(144,1505),(148,1498),(152,1490),(156,1495),(160,1500),(164,1510),(168,1520),(172,1515),(176,1510),(180,1502),(184,1495),(188,1502),(192,1510),(196,1518),(200,1525),(204,1515),(208,1505),(212,1498),(216,1490),(220,1498),(224,1505),(228,1512),(232,1520),(236,1515),(240,1510),(244,1518),(248,1525),(252,1532),(256,1540),(260,1532),(264,1525),(268,1518),(272,1510),(276,1518),(280,1525)]
G20 = [(1,1493),(4,1486),(8,1480),(12,1470),(16,1460),(20,1452),(24,1445),(28,1450),(32,1455),(36,1445),(40,1435),(44,1428),(48,1420),(52,1425),(56,1430),(60,1422),(64,1415),(68,1408),(72,1400),(76,1405),(80,1410),(84,1418),(88,1425),(92,1415),(96,1405),(100,1398),(104,1390),(107,1395),(110,1400)]
G21 = [(1,1502),(4,1498),(8,1495),(12,1488),(16,1480),(20,1485),(24,1490),(28,1480),(32,1470),(36,1472),(40,1475),(44,1465),(48,1455),(52,1460),(56,1465),(60,1472),(64,1480),(68,1475),(72,1470),(76,1478),(80,1485),(84,1492),(88,1500),(92,1495),(96,1490),(100,1480),(104,1470),(108,1478),(112,1485),(116,1492),(120,1500),(124,1508),(128,1515),(132,1508),(136,1500),(140,1510),(144,1520),(148,1530),(152,1540),(156,1532),(160,1525),(164,1535),(168,1545),(172,1552),(176,1560),(180,1550),(184,1540),(188,1532),(192,1525),(196,1535),(200,1545),(204,1552),(208,1560),(212,1570),(216,1580),(220,1588),(224,1595),(228,1588),(232,1580),(236,1572),(240,1565),(244,1572),(248,1580),(252,1572),(256,1565),(260,1555),(264,1545),(268,1552),(272,1560),(276,1570),(280,1580),(284,1590),(288,1600),(291,1606),(294,1612),(297,1600),(300,1590),(302,1598),(305,1605),(308,1598),(312,1590),(315,1600),(318,1610),(322,1625),(325,1612),(328,1600),(331,1592),(334,1585),(337,1595),(340,1605),(343,1598),(346,1590),(349,1582),(352,1575),(355,1582),(358,1590),(361,1595),(364,1600),(367,1592),(370,1585),(373,1590),(376,1595),(379,1602),(382,1610),(385,1605),(388,1600),(391,1592),(394,1585),(397,1592),(400,1600),(402,1595),(405,1590)]

HIGHLIGHT = [OLY, PAOK, AEK, PAO, ARIS]
GREYS = [G01, G02, G03, G04, G05, G06, G07, G08, G09, G10, G11, G12, G13, G14, G15, G16, G17, G18, G19, G20, G21]

hi_rows = []
for label, pts in zip(TEAMS, HIGHLIGHT):
    for m, e in pts:
        hi_rows.append({"team": label, "match": m, "elo": e})
hi_df = pd.DataFrame(hi_rows)

grey_rows = []
for i, pts in enumerate(GREYS):
    for m, e in pts:
        grey_rows.append({"club": "g%02d" % i, "match": m, "elo": e})
grey_df = pd.DataFrame(grey_rows)

ref_df = pd.DataFrame({"elo": [1500]})

FONT = "DejaVu Sans"

x_enc = alt.X("match:Q",
              scale=alt.Scale(domain=[-29.2, 635.2], nice=False, zero=False),
              axis=alt.Axis(values=X_TICKS, title="Match Number", grid=False, format="d",
                            titlePadding=8, labelPadding=7))
y_enc = alt.Y("elo:Q",
              scale=alt.Scale(domain=[1290.7, 1970.7], nice=False, zero=False),
              axis=alt.Axis(values=Y_TICKS, title="ELO Rating", grid=True, format="d",
                            gridColor="#e6e6e6", gridWidth=1.6,
                            titlePadding=9, labelPadding=8))

grey = alt.Chart(grey_df).mark_line(color="#999999", opacity=0.3, strokeWidth=1.35).encode(
    x=x_enc, y=y_enc, detail="club:N")

ref = alt.Chart(ref_df).mark_rule(color="#999999", strokeDash=[4, 3], strokeWidth=1.3, opacity=0.8).encode(
    y=alt.Y("elo:Q"))

lines = alt.Chart(hi_df).mark_line(strokeWidth=5.6, opacity=0.9, strokeJoin="round").encode(
    x=x_enc, y=y_enc,
    color=alt.Color("team:N", sort=TEAMS,
                    scale=alt.Scale(domain=TEAMS, range=COLORS),
                    legend=alt.Legend(orient="none", legendX=11, legendY=12, title=None,
                                      fillColor="white", strokeColor="#cccccc", cornerRadius=5,
                                      padding=8, symbolType="M-2.125,0L2.125,0", symbolSize=576,
                                      symbolStrokeWidth=5.6, symbolOffset=10.5, labelOffset=25.5,
                                      labelFont=FONT, labelFontSize=22.9, labelColor="#000000",
                                      rowPadding=7.5, symbolOpacity=0.9, labelLimit=0)),
    order=alt.Order("match:Q"))

chart = alt.layer(grey, ref, lines).properties(
    width=2850, height=1317,
    title=alt.TitleParams(text=[TITLE_1, TITLE_2], font=FONT, fontSize=29, fontWeight="bold",
                          color="#000000", anchor="middle", offset=5, lineHeight=33),
    padding={"left": 107, "top": 72, "right": 9, "bottom": 74},
    autosize=alt.AutoSizeParams(type="none"),
    background="white",
).configure_view(stroke=None).configure_axis(
    labelFont=FONT, labelFontSize=20.8, labelColor="#000000",
    titleFont=FONT, titleFontSize=25, titleFontWeight="bold", titleColor="#000000",
    domainColor="#222222", domainWidth=1.6, tickColor="#222222", tickWidth=1.6, tickSize=7,
)

chart.save("out.html", embed_options={"renderer": "svg", "actions": False})
